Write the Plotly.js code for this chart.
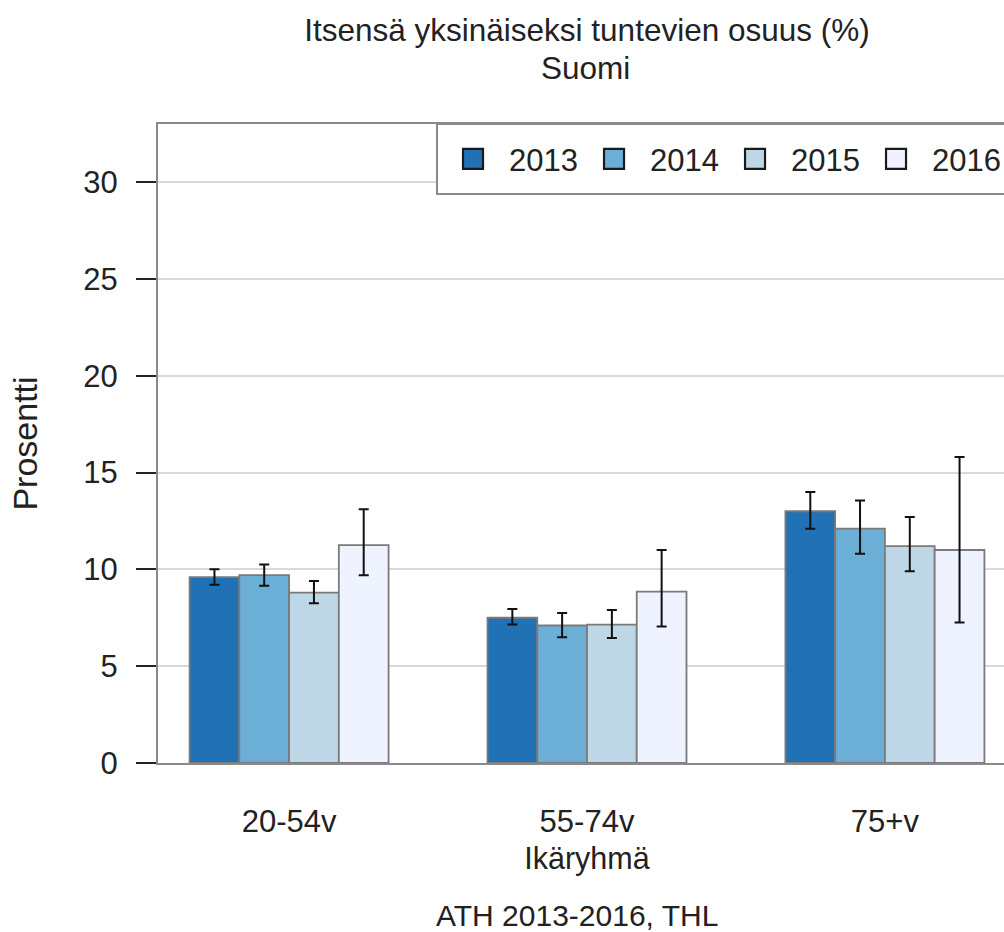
<!DOCTYPE html>
<html>
<head>
<meta charset="utf-8">
<script src="https://cdn.plot.ly/plotly-3.0.1.min.js"></script>
<style>
html, body { margin: 0; padding: 0; overflow: hidden; background: #fff; }
#chart { width: 1060px; height: 932px; }
</style>
</head>
<body>
<div id="chart"></div>
<script>
// Data
var categories = ['20-54v', '55-74v', '75+v'];
var years = ['2013', '2014', '2015', '2016'];
var colors = ['#2171b5', '#6baed6', '#bdd7e7', '#eff3ff'];

var val2013 = [9.6, 7.5, 13.0];
var low2013 = [9.2, 7.15, 12.1];
var high2013 = [10.0, 7.95, 14.0];

var val2014 = [9.7, 7.1, 12.1];
var low2014 = [9.15, 6.5, 10.8];
var high2014 = [10.25, 7.75, 13.55];

var val2015 = [8.8, 7.15, 11.2];
var low2015 = [8.25, 6.45, 9.9];
var high2015 = [9.4, 7.9, 12.7];

var val2016 = [11.25, 8.85, 11.0];
var low2016 = [9.7, 7.05, 7.25];
var high2016 = [13.1, 11.0, 15.8];

var yTicks = [0, 5, 10, 15, 20, 25, 30];

var values = [val2013, val2014, val2015, val2016];
var lows = [low2013, low2014, low2015, low2016];
var highs = [high2013, high2014, high2015, high2016];

var FONT = 'Liberation Sans, Arial, sans-serif';

var traces = years.map(function (yr, i) {
  var v = values[i];
  return {
    type: 'bar',
    name: yr,
    x: categories,
    y: v,
    marker: { color: colors[i], line: { color: '#7a7a7a', width: 1.8 } },
    error_y: {
      type: 'data',
      symmetric: false,
      array: highs[i].map(function (h, k) { return h - v[k]; }),
      arrayminus: lows[i].map(function (l, k) { return v[k] - l; }),
      color: '#111',
      thickness: 2,
      width: 5
    },
    hoverinfo: 'x+y+name'
  };
});

var layout = {
  width: 1060,
  height: 932,
  autosize: false,
  margin: { l: 158, r: 44, t: 124, b: 169 },
  paper_bgcolor: '#fff',
  plot_bgcolor: '#fff',
  font: { family: FONT, size: 31, color: '#222' },
  title: {
    text: 'Itsensä yksinäiseksi tuntevien osuus (%)',
    font: { family: FONT, size: 31.5, color: '#222' },
    x: 0.5, xref: 'paper', xanchor: 'center',
    y: 0.968, yref: 'container', yanchor: 'middle'
  },
  barmode: 'group',
  bargap: 0.332,
  bargroupgap: 0,
  showlegend: true,
  legend: {
    orientation: 'h',
    x: 0.3625, xref: 'paper', xanchor: 'left',
    y: 0.945, yref: 'paper', yanchor: 'middle',
    bgcolor: 'rgba(0,0,0,0)',
    borderwidth: 0,
    font: { family: FONT, size: 31, color: '#222' },
    entrywidth: 96,
    entrywidthmode: 'pixels',
    traceorder: 'normal'
  },
  xaxis: {
    type: 'category',
    range: [-0.44, 2.44],
    showgrid: false,
    zeroline: false,
    showline: true,
    linecolor: '#8a8a8a',
    linewidth: 2,
    mirror: true,
    ticks: '',
    ticklabelstandoff: 30,
    tickfont: { family: FONT, size: 31, color: '#222' },
    title: { text: 'Ikäryhmä', font: { family: FONT, size: 30.5, color: '#222' }, standoff: 9 },
    fixedrange: true
  },
  yaxis: {
    range: [0, 33],
    tickvals: yTicks,
    ticktext: yTicks.map(String),
    showgrid: true,
    gridcolor: '#d9d9d9',
    gridwidth: 2,
    zeroline: false,
    showline: true,
    linecolor: '#8a8a8a',
    linewidth: 2,
    mirror: true,
    ticks: 'outside',
    ticklen: 20,
    tickwidth: 2,
    tickcolor: '#222',
    ticklabelstandoff: 12,
    tickfont: { family: FONT, size: 31, color: '#222' },
    title: { text: 'Prosentti', font: { family: FONT, size: 34, color: '#222' }, standoff: 35 },
    fixedrange: true
  },
  shapes: [{
    type: 'rect', xref: 'paper', yref: 'paper',
    x0: 0.3252, x1: 1.0, y0: 0.8905, y1: 1.0,
    line: { color: '#8a8a8a', width: 2 },
    fillcolor: '#ffffff',
    layer: 'above'
  }],
  annotations: [{
    text: 'Suomi',
    xref: 'paper', yref: 'paper',
    x: 0.4977, y: 1.0876, xanchor: 'center', yanchor: 'middle',
    showarrow: false,
    font: { family: FONT, size: 31.5, color: '#222' }
  }, {
    text: 'ATH 2013-2016, THL',
    xref: 'paper', yref: 'paper',
    x: 0.488, y: -0.2394, xanchor: 'center', yanchor: 'middle',
    showarrow: false,
    font: { family: FONT, size: 30, color: '#222' }
  }]
};

Plotly.newPlot('chart', traces, layout, { displayModeBar: false, staticPlot: true }).then(function (gd) {
  gd.querySelectorAll('.legend [clip-path]').forEach(function (el) {
    el.removeAttribute('clip-path');
  });
  var paths = gd.querySelectorAll('.legend .traces .legendpoints path');
  paths.forEach(function (p) {
    var t = p.getAttribute('transform') || '';
    p.setAttribute('transform', t + ' translate(-16,0) scale(1.667)');
    p.style.strokeWidth = '1.3px';
    p.style.stroke = '#1a1a1a';
  });
});
</script>
</body>
</html>
